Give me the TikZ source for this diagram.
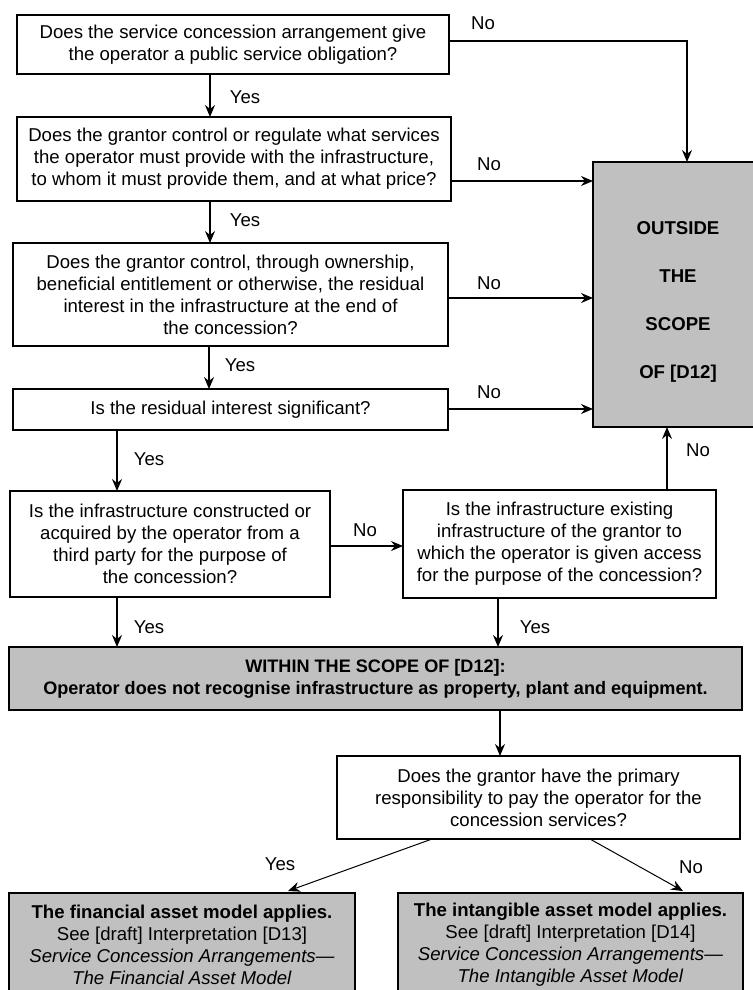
\documentclass[tikz,border=0pt]{standalone}
\usepackage{fontspec}
\setmainfont{Liberation Sans}
\usetikzlibrary{arrows.meta}
\definecolor{boxgray}{HTML}{C0C0C0}
\begin{document}
\begin{tikzpicture}[x=1pt,y=-1pt,
  every node/.style={font=\fontsize{18.6}{22}\selectfont},
  box/.style={draw, line width=1.3pt, inner sep=0pt, outer sep=0pt, align=center, anchor=north west},
  gbox/.style={box, fill=boxgray},
  lbl/.style={inner sep=0pt, anchor=center},
  arr/.style={-{Stealth[length=12pt,width=10pt,inset=4pt]}, line width=1.3pt}]
\useasboundingbox (0,0) rectangle (752,990);

% boxes
\node[box, minimum width=432pt, minimum height=59pt] (b1) at (17,15)
  {Does the service concession arrangement give\\the operator a public service obligation?};
\node[box, minimum width=434pt, minimum height=84pt] (b2) at (17,117)
  {Does the grantor control or regulate what services\\the operator must provide with the infrastructure,\\to whom it must provide them, and at what price?};
\node[box, minimum width=435pt, minimum height=103pt] (b3) at (13,243)
  {Does the grantor control, through ownership,\\beneficial entitlement or otherwise, the residual\\interest in the infrastructure at the end of\\the concession?};
\node[box, minimum width=435pt, minimum height=41pt] (b4) at (13,389)
  {Is the residual interest significant?};
\node[gbox, minimum width=170pt, minimum height=265pt, font=\fontsize{18.6}{22}\selectfont\bfseries] (out) at (593,162)
  {\rule{0pt}{28pt}OUTSIDE\\[26pt]THE\\[26pt]SCOPE\\[26pt]OF [D12]};
\node[box, minimum width=320pt, minimum height=106pt] (b5) at (10,491)
  {Is the infrastructure constructed or\\acquired by the operator from a\\third party for the purpose of\\the concession?};
\node[box, minimum width=313pt, minimum height=108pt] (b6) at (403,490)
  {Is the infrastructure existing\\infrastructure of the grantor to\\which the operator is given access\\for the purpose of the concession?};
\node[gbox, minimum width=733pt, minimum height=63pt, font=\fontsize{18.1}{22}\selectfont\bfseries] (w) at (9,647)
  {WITHIN THE SCOPE OF [D12]:\\Operator does not recognise infrastructure as property, plant and equipment.};
\node[box, minimum width=403pt, minimum height=83pt] (b7) at (337,756)
  {Does the grantor have the primary\\responsibility to pay the operator for the\\concession services?};
\node[gbox, minimum width=346pt, minimum height=104pt] (bl) at (9,893)
  {\textbf{The financial asset model applies.}\\See [draft] Interpretation [D13]\\\textit{Service Concession Arrangements---}\\\textit{The Financial Asset Model}};
\node[gbox, minimum width=345pt, minimum height=104pt] (br) at (398,893)
  {\textbf{The intangible asset model applies.}\\See [draft] Interpretation [D14]\\\textit{Service Concession Arrangements---}\\\textit{The Intangible Asset Model}};

% coordinates
\coordinate (n1) at ([yshift=-26pt]b1.north east);
\coordinate (n2) at ([yshift=-64pt]b2.north east);
\coordinate (n3) at ([yshift=-55pt]b3.north east);
\coordinate (n4) at ([yshift=-20pt]b4.north east);
\coordinate (n5) at ([yshift=-55pt]b5.north east);
\coordinate (o1) at ([xshift=94pt]out.north west);
\coordinate (s1) at ([xshift=193pt]b1.south west);
\coordinate (s2) at ([xshift=193pt]b2.south west);
\coordinate (s3) at ([xshift=196pt]b3.south west);
\coordinate (s4) at ([xshift=104pt]b4.south west);
\coordinate (s5) at ([xshift=107pt]b5.south west);
\coordinate (s6) at ([xshift=95pt]b6.south west);
\coordinate (u6) at ([xshift=264pt]b6.north west);
\coordinate (sw) at ([xshift=491pt]w.south west);
\coordinate (y7) at ([xshift=95pt]b7.south west);
\coordinate (m7) at ([xshift=253pt]b7.south west);
\coordinate (tl) at ([xshift=279pt,yshift=2pt]bl.north west);
\coordinate (tr) at ([xshift=285pt,yshift=2pt]br.north west);

% connectors
\draw[arr] (s1) -- (s1 |- b2.north);
\draw[arr] (n1) -| (o1);
\draw[arr] (n2) -- (n2 -| out.west);
\draw[arr] (s2) -- (s2 |- b3.north);
\draw[arr] (n3) -- (n3 -| out.west);
\draw[arr] (s3) -- (s3 |- b4.north);
\draw[arr] (n4) -- (n4 -| out.west);
\draw[arr] (s4) -- (s4 |- b5.north);
\draw[arr] (n5) -- (n5 -| b6.west);
\draw[arr] (u6) -- (u6 |- out.south);
\draw[arr] (s5) -- (s5 |- w.north);
\draw[arr] (s6) -- (s6 |- w.north);
\draw[arr] (sw) -- (sw |- b7.north);
\draw[arr, line width=1pt] (y7) -- (tl);
\draw[arr, line width=1pt] (m7) -- (tr);

% labels
\node[lbl] (lno1) at (483,23) {No};
\node[lbl] (lyes1) at (245,97) {Yes};
\node[lbl] (lno2) at (489,164) {No};
\node[lbl] (lyes2) at (245,220) {Yes};
\node[lbl] (lno3) at (489,283) {No};
\node[lbl] (lyes3) at (240,365) {Yes};
\node[lbl] (lno4) at (489,392) {No};
\node[lbl] (lyes4) at (149,459) {Yes};
\node[lbl] (lno5) at (365,530) {No};
\node[lbl] (lno6) at (698,450) {No};
\node[lbl] (lyes5) at (149,627) {Yes};
\node[lbl] (lyes6) at (535,627) {Yes};
\node[lbl] (lyes7) at (280,864) {Yes};
\node[lbl] (lno7) at (691,867) {No};
\end{tikzpicture}
\end{document}
